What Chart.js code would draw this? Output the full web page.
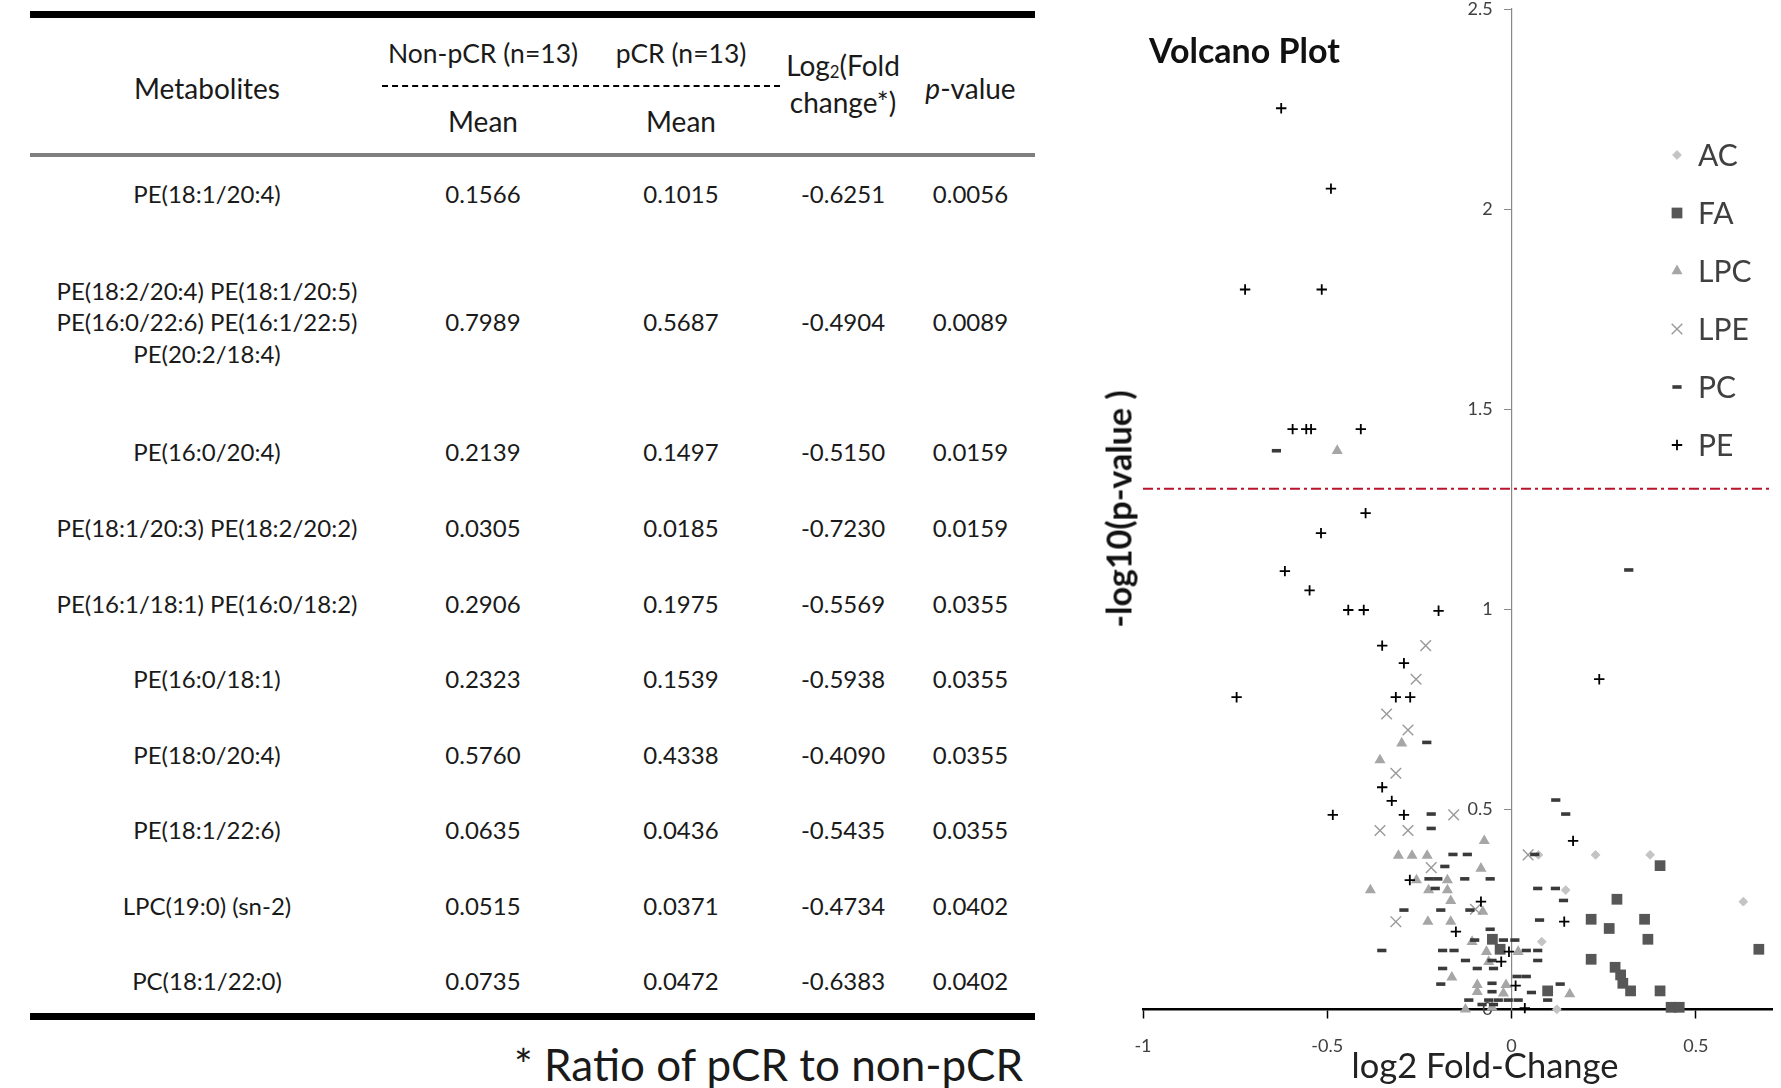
<!DOCTYPE html>
<html>
<head>
<meta charset="utf-8">
<script src="https://cdn.jsdelivr.net/npm/chart.js"></script>
<style>
  html, body { margin: 0; padding: 0; background: #fff; }
  body { width: 1781px; height: 1088px; position: relative; overflow: hidden; font-family: Lato, "Open Sans", sans-serif; color: #1a1a1a; }
  .rule { position: absolute; left: 30px; width: 1005px; }
  #ruleTop { top: 11px; height: 7px; background: #000; }
  #ruleMid { top: 153px; height: 4px; background: #7f7f7f; }
  #ruleBot { top: 1013px; height: 7px; background: #000; }
  #ruleDash { position: absolute; left: 382px; top: 85px; width: 398px; border-top: 2px dashed #000; }
  #tbl { position: absolute; left: 30px; top: 18px; width: 1005px; table-layout: fixed; border-collapse: collapse; }
  #tbl th, #tbl td { padding: 0; text-align: center; vertical-align: middle; white-space: nowrap; }
  #tbl th { font-weight: normal; font-size: 28px; }
  #tbl td { font-size: 24px; line-height: 31.5px; }
  #tbl sub { font-size: 60%; vertical-align: -2px; }
  tr.h1 { height: 68px; }
  tr.h2 { height: 67px; }
  tr.gap { height: 4px; }
  th.met { padding-top: 4px !important; }
  th.grp { font-size: 26.5px !important; padding-top: 2px !important; }
  th.mean { padding-top: 3px !important; }
  th.fc { line-height: 31px; padding-bottom: 4px !important; }
  th.pv { padding-top: 4px !important; }
  #tb tr { height: 75.5px; }
  #tb tr:nth-child(1) { height: 74px; }
  #tb tr:nth-child(2) { height: 182px; }
  #tb tr:nth-child(3) { height: 77px; }
  #note { position: absolute; right: 758px; top: 1039px; font-size: 44px; line-height: 50px; white-space: nowrap; }
  #plot { position: absolute; left: 1090px; top: -20px; width: 691px; height: 1108px; }
  .lab { position: absolute; white-space: nowrap; color: #111; }
  #vtitle { left: 1149px; top: 30px; font-size: 34px; line-height: 40px; font-weight: bold; }
  #ytitle { left: 1118px; top: 509px; font-size: 34px; font-weight: bold; transform: translate(-50%, -50%) rotate(-90deg); }
  #xtitle { left: 1485px; top: 1064px; font-size: 34.5px; color: #222; transform: translate(-50%, -50%); }
</style>
</head>
<body>
<div class="rule" id="ruleTop"></div>
<div id="ruleDash"></div>
<div class="rule" id="ruleMid"></div>
<table id="tbl">
  <colgroup><col style="width:354px"><col style="width:198px"><col style="width:198px"><col style="width:126px"><col style="width:129px"></colgroup>
  <thead>
    <tr class="h1">
      <th class="met" rowspan="2">Metabolites</th>
      <th class="grp">Non-pCR (n=13)</th>
      <th class="grp">pCR (n=13)</th>
      <th class="fc" rowspan="2">Log<sub>2</sub>(Fold<br>change*)</th>
      <th class="pv" rowspan="2"><i>p</i>-value</th>
    </tr>
    <tr class="h2"><th class="mean">Mean</th><th class="mean">Mean</th></tr>
    <tr class="gap"><td colspan="5"></td></tr>
  </thead>
  <tbody id="tb"></tbody>
</table>
<div class="rule" id="ruleBot"></div>
<div id="note">* Ratio of pCR to non-pCR</div>

<div id="plot"><canvas id="volcano" width="691" height="1108"></canvas></div>
<div class="lab" id="vtitle">Volcano Plot</div>
<div class="lab" id="ytitle">-log10(p-value )</div>
<div class="lab" id="xtitle">log2 Fold-Change</div>

<script>
// ---- TABLE DATA ----
const metabolites = [
  'PE(18:1/20:4)',
  'PE(18:2/20:4) PE(18:1/20:5)\nPE(16:0/22:6) PE(16:1/22:5)\nPE(20:2/18:4)',
  'PE(16:0/20:4)',
  'PE(18:1/20:3) PE(18:2/20:2)',
  'PE(16:1/18:1) PE(16:0/18:2)',
  'PE(16:0/18:1)',
  'PE(18:0/20:4)',
  'PE(18:1/22:6)',
  'LPC(19:0) (sn-2)',
  'PC(18:1/22:0)'
];
const nonPcrMean = ['0.1566', '0.7989', '0.2139', '0.0305', '0.2906', '0.2323', '0.5760', '0.0635', '0.0515', '0.0735'];
const pcrMean = ['0.1015', '0.5687', '0.1497', '0.0185', '0.1975', '0.1539', '0.4338', '0.0436', '0.0371', '0.0472'];
const log2Fc = ['-0.6251', '-0.4904', '-0.5150', '-0.7230', '-0.5569', '-0.5938', '-0.4090', '-0.5435', '-0.4734', '-0.6383'];
const pValues = ['0.0056', '0.0089', '0.0159', '0.0159', '0.0355', '0.0355', '0.0355', '0.0355', '0.0402', '0.0402'];

// ---- VOLCANO DATA: [log2 fold-change, -log10(p)] ----
const AC = [[0.073, 0.386], [0.228, 0.386], [0.376, 0.386], [0.147, 0.298], [0.629, 0.269], [0.082, 0.169], [0.123, 0.0]];
const FA = [[0.403, 0.359], [0.286, 0.275], [0.216, 0.225], [0.361, 0.225], [0.265, 0.202], [0.370, 0.175], [0.671, 0.150],
  [0.216, 0.125], [0.281, 0.105], [0.296, 0.086], [0.302, 0.065], [0.323, 0.046], [0.403, 0.046], [0.433, 0.005],
  [0.455, 0.005], [0.098, 0.046], [-0.052, 0.175], [-0.031, 0.150]];
const LPC = [[-0.473, 1.396], [-0.298, 0.665], [-0.357, 0.623], [-0.074, 0.421], [-0.307, 0.384], [-0.270, 0.384],
  [-0.229, 0.384], [-0.083, 0.352], [-0.258, 0.323], [-0.174, 0.323], [-0.383, 0.298], [-0.225, 0.298], [-0.174, 0.298],
  [-0.165, 0.271], [-0.078, 0.244], [-0.227, 0.219], [-0.165, 0.219], [-0.107, 0.169], [-0.068, 0.144], [0.018, 0.144],
  [-0.062, 0.119], [-0.162, 0.080], [-0.093, 0.061], [-0.015, 0.061], [-0.022, 0.040], [-0.093, 0.044], [-0.125, 0.0],
  [-0.053, 0.005], [0.158, 0.038]];
const LPE = [[-0.233, 0.909], [-0.259, 0.825], [-0.339, 0.738], [-0.281, 0.698], [-0.314, 0.590], [-0.157, 0.486],
  [-0.357, 0.447], [-0.281, 0.447], [0.045, 0.386], [-0.218, 0.354], [-0.098, 0.250], [-0.314, 0.219]];
const PC = [[-0.638, 1.396], [0.318, 1.098], [-0.230, 0.667], [0.120, 0.523], [-0.218, 0.488], [0.147, 0.488],
  [-0.218, 0.452], [0.063, 0.387], [-0.159, 0.387], [-0.120, 0.387], [-0.181, 0.357], [-0.224, 0.326], [-0.200, 0.326],
  [-0.127, 0.326], [-0.058, 0.326], [-0.207, 0.302], [0.071, 0.302], [0.119, 0.302], [0.141, 0.272], [-0.292, 0.248],
  [-0.192, 0.248], [-0.113, 0.248], [0.076, 0.223], [-0.058, 0.200], [-0.100, 0.173], [-0.022, 0.173], [0.009, 0.173],
  [-0.352, 0.147], [-0.187, 0.147], [-0.156, 0.147], [0.040, 0.147], [0.071, 0.147], [-0.125, 0.122], [-0.053, 0.122],
  [0.071, 0.122], [-0.187, 0.102], [-0.093, 0.102], [-0.049, 0.102], [0.015, 0.082], [0.040, 0.082], [-0.192, 0.063],
  [-0.053, 0.065], [0.132, 0.063], [-0.053, 0.044], [0.054, 0.042], [-0.116, 0.023], [-0.062, 0.023], [-0.036, 0.023],
  [-0.009, 0.023], [0.018, 0.023], [0.098, 0.023], [-0.080, 0.012], [-0.049, 0.012]];
const PE = [[-0.625, 2.252], [-0.490, 2.051], [-0.515, 1.799], [-0.723, 1.799], [-0.557, 1.450], [-0.594, 1.450],
  [-0.409, 1.450], [-0.544, 1.450], [-0.396, 1.240], [-0.517, 1.190], [-0.615, 1.095], [-0.548, 1.047], [-0.443, 0.998],
  [-0.401, 0.998], [-0.198, 0.996], [-0.351, 0.909], [-0.292, 0.865], [0.238, 0.825], [-0.746, 0.780], [-0.314, 0.780],
  [-0.275, 0.780], [-0.351, 0.555], [-0.325, 0.521], [-0.485, 0.486], [-0.292, 0.486], [0.167, 0.421], [-0.276, 0.323],
  [-0.083, 0.269], [0.143, 0.219], [-0.151, 0.194], [-0.007, 0.144], [-0.028, 0.119], [0.011, 0.059], [0.036, 0.003]];

// p = 0.05 cut-off line
const cutoffY = 1.301;
const cutoffX = [-1, 0.707];

// ---- build table ----
document.getElementById('tb').innerHTML = metabolites.map((m, i) =>
  `<tr><td>${m.replace(/\n/g, '<br>')}</td><td>${nonPcrMean[i]}</td><td>${pcrMean[i]}</td><td>${log2Fc[i]}</td><td>${pValues[i]}</td></tr>`
).join('');

// ---- chart ----
const pts = arr => arr.map(p => ({x: p[0], y: p[1]}));

function series(label, data, style, radius, fill, stroke, width, row) {
  return {
    label, data: pts(data), pointStyle: style, pointRadius: radius, pointHoverRadius: radius,
    backgroundColor: fill, borderColor: stroke, borderWidth: width, clip: false, legendRow: row, order: 6 - row
  };
}

// legend sits over the plot, right side
const sideLegend = {
  id: 'sideLegend',
  afterDraw(chart, args, opts) {
    const ctx = chart.ctx;
    ctx.save();
    chart.data.datasets.forEach(ds => {
      if (ds.legendRow == null) return;
      const y = opts.top + ds.legendRow * opts.step;
      ctx.fillStyle = ds.backgroundColor;
      ctx.strokeStyle = ds.borderColor;
      ctx.lineWidth = ds.borderWidth;
      Chart.helpers.drawPoint(ctx, {pointStyle: ds.pointStyle, radius: ds.pointRadius, borderWidth: ds.borderWidth, rotation: 0}, opts.markerX, y);
      ctx.fillStyle = '#404040';
      ctx.font = '30px Lato';
      ctx.textBaseline = 'middle';
      ctx.fillText(ds.label, opts.textX, y + 1);
    });
    ctx.restore();
  }
};

const tickFont = {family: 'Lato', size: 18};
const fmt = v => String(Math.round(v * 10) / 10);

new Chart(document.getElementById('volcano'), {
  type: 'scatter',
  data: {
    datasets: [
      {type: 'line', label: 'p = 0.05', data: cutoffX.map(x => ({x, y: cutoffY})), borderColor: '#b8142c', borderWidth: 1.8,
       borderDash: [10, 4, 3, 4], pointRadius: 0, fill: false, order: -1},
      series('AC', AC, 'rectRot', 4.4, '#c4c4c4', '#c4c4c4', 1, 0),
      series('FA', FA, 'rect', 7.6, '#575757', '#575757', 0, 1),
      series('LPC', LPC, 'triangle', 6.4, '#a6a6a6', '#a6a6a6', 0, 2),
      series('LPE', LPE, 'crossRot', 7.5, 'rgba(0,0,0,0)', '#999999', 1.4, 3),
      series('PC', PC, 'line', 4.6, '#3a3a3a', '#3a3a3a', 3.6, 4),
      series('PE', PE, 'cross', 5.2, '#000000', '#000000', 1.8, 5)
    ]
  },
  options: {
    responsive: false,
    animation: false,
    layout: {padding: {left: 53, right: 0, top: 29, bottom: 78.7}},
    plugins: {
      legend: {display: false},
      tooltip: {enabled: false},
      sideLegend: {markerX: 587, textX: 608, top: 175, step: 58}
    },
    scales: {
      x: {
        type: 'linear', position: {y: 0}, min: -1, max: 0.707,
        ticks: {stepSize: 0.5, includeBounds: false, color: '#404040', font: tickFont, padding: 18, maxRotation: 0, callback: fmt},
        grid: {drawOnChartArea: false, drawTicks: true, tickLength: 8, color: '#000', tickWidth: 1.5},
        border: {color: '#000', width: 2.5}
      },
      y: {
        type: 'linear', position: {x: 0}, min: 0, max: 2.5,
        ticks: {stepSize: 0.5, display: false},
        grid: {drawOnChartArea: false, drawTicks: true, tickLength: 7, color: '#888'},
        border: {color: '#888', width: 1.2}
      },
      // tick labels of the y axis, set a little left of the x = 0 axis line
      yLabels: {
        axis: 'y', type: 'linear', position: {x: -0.051}, min: 0, max: 2.5,
        ticks: {stepSize: 0.5, color: '#404040', font: tickFont, callback: fmt},
        grid: {display: false},
        border: {display: false}
      }
    }
  },
  plugins: [sideLegend]
});
</script>
</body>
</html>
